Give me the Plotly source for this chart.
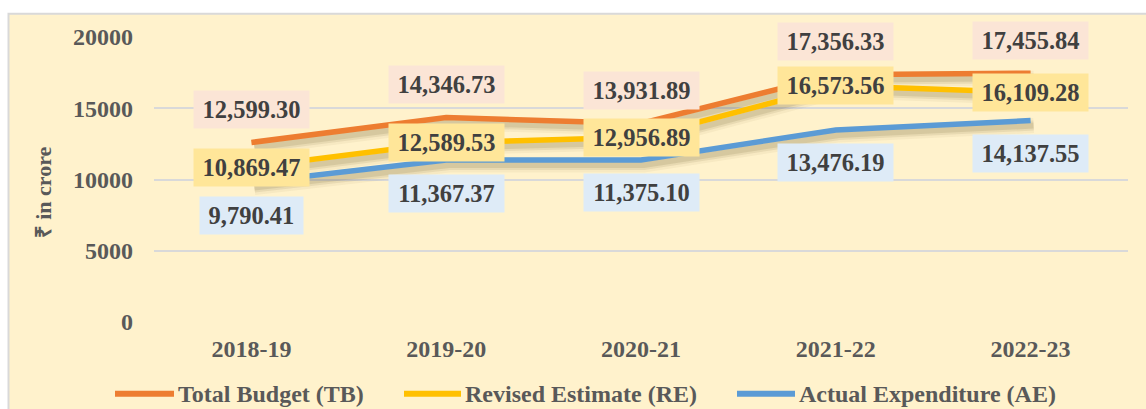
import plotly.graph_objects as go

# ---------------- data ----------------
years = ["2018-19", "2019-20", "2020-21", "2021-22", "2022-23"]
total_budget = [12599.30, 14346.73, 13931.89, 17356.33, 17455.84]
revised_estimate = [10869.47, 12589.53, 12956.89, 16573.56, 16109.28]
actual_expenditure = [9790.41, 11367.37, 11375.10, 13476.19, 14137.55]
series_names = ["Total Budget (TB)", "Revised Estimate (RE)", "Actual Expenditure (AE)"]
y_tick_values = [0, 5000, 10000, 15000, 20000]
y_tick_labels = ["0", "5000", "10000", "15000", "20000"]
y_axis_title = "₹ in crore"

# ---------------- style ----------------
W, H = 1146, 409
L, R, T, B = 154, 1128, 36.7, 321.7
FONT = "Liberation Serif, Times New Roman, serif"
line_colors = ["#ED7D31", "#FFC000", "#5B9BD5"]
label_bg = ["#FBE5D6", "#FFE699", "#DEEBF7"]
label_shift = [33, 0, -33]
LABEL_SIZE = 24.5
series = [total_budget, revised_estimate, actual_expenditure]
Y_RANGE = [0, 20000]
X_RANGE = [-0.5, 4.5]
px_per_y = (B - T) / (Y_RANGE[1] - Y_RANGE[0])
px_per_x = (R - L) / (X_RANGE[1] - X_RANGE[0])


def xp(px):
    return (px - L) / (R - L)


def yp(py):
    return (B - py) / (B - T)


def fmt(v):
    return f"{v:,.2f}"


def text_w(s):
    w = 0
    for ch in s:
        w += 0.25 if ch in ",." else 0.5
    return w * LABEL_SIZE


fig = go.Figure()

# base axis anchor (invisible)
fig.add_trace(go.Scatter(x=years, y=total_budget, mode="lines", line=dict(width=0),
                         opacity=0, hoverinfo="skip", showlegend=False, xaxis="x", yaxis="y"))

# shadows (overlay axes shifted slightly right/down)
sdx, sdy = 3, 5
for vals in series:
    for w, op in [(15, 0.05), (10, 0.09), (6, 0.12)]:
        fig.add_trace(go.Scatter(x=years, y=vals, mode="lines",
                                 line=dict(color=f"rgba(90,70,25,{op})", width=w),
                                 hoverinfo="skip", showlegend=False, xaxis="x2", yaxis="y2"))

# main lines
for name, vals, c in zip(series_names, series, line_colors):
    fig.add_trace(go.Scatter(x=years, y=vals, mode="lines", name=name,
                             line=dict(color=c, width=5.5),
                             showlegend=False, xaxis="x3", yaxis="y3"))

# data labels
annotations = []
for vals, bg, sh in zip(series, label_bg, label_shift):
    for yr, v in zip(years, vals):
        t = fmt(v)
        annotations.append(dict(
            x=yr, y=v, xref="x3", yref="y3", text=t, showarrow=False,
            xanchor="center", yanchor="middle", yshift=sh,
            bgcolor=bg, borderpad=5, width=text_w(t) + 7, height=27,
            font=dict(family=FONT, size=LABEL_SIZE, color="#404040", weight="bold")))

# y axis title
annotations.append(dict(
    x=xp(43), y=yp(192), xref="paper", yref="paper", text=y_axis_title,
    textangle=-90, showarrow=False, xanchor="center", yanchor="middle",
    font=dict(family=FONT, size=22, color="#595959", weight="bold")))

# manual legend
shapes = []
leg_y = 393.5
leg_items = [(115, 174, 176), (404, 461, 463), (737, 795, 797)]
for (x0, x1, tx), name, c in zip(leg_items, series_names, line_colors):
    shapes.append(dict(type="line", xref="paper", yref="paper",
                       x0=xp(x0), x1=xp(x1), y0=yp(leg_y), y1=yp(leg_y),
                       line=dict(color=c, width=6)))
    annotations.append(dict(x=xp(tx), y=yp(leg_y), xref="paper", yref="paper",
                            text=name, showarrow=False, xanchor="left", yanchor="middle",
                            font=dict(family=FONT, size=24, color="#595959", weight="bold")))

# frame / background
shapes.insert(0, dict(type="rect", xref="paper", yref="paper", layer="below",
                      x0=xp(8.5), x1=xp(1200), y0=yp(460), y1=yp(13.5),
                      fillcolor="#FFF2CC", line=dict(color="#D9D9D9", width=2)))

fig.update_layout(
    width=W, height=H,
    margin=dict(l=L, r=W - R, t=T, b=H - B, pad=0),
    paper_bgcolor="white", plot_bgcolor="rgba(0,0,0,0)",
    showlegend=False,
    xaxis=dict(type="category", categoryarray=years, range=X_RANGE, showgrid=False,
               zeroline=False, showline=False, ticks="", ticklabelstandoff=10,
               tickfont=dict(family=FONT, size=24, color="#595959", weight="bold")),
    yaxis=dict(range=Y_RANGE, tickvals=y_tick_values, ticktext=y_tick_labels,
               showgrid=True, gridcolor="#D9D9D9",
               gridwidth=2, zeroline=False, showline=False, ticks="", ticklabelstandoff=20,
               tickfont=dict(family=FONT, size=24, color="#595959", weight="bold")),
    xaxis2=dict(type="category", categoryarray=years, overlaying="x",
                range=[X_RANGE[0] - sdx / px_per_x, X_RANGE[1] - sdx / px_per_x], visible=False),
    yaxis2=dict(overlaying="y", range=[Y_RANGE[0] + sdy / px_per_y, Y_RANGE[1] + sdy / px_per_y],
                visible=False),
    xaxis3=dict(type="category", categoryarray=years, overlaying="x", range=X_RANGE, visible=False),
    yaxis3=dict(overlaying="y", range=Y_RANGE, visible=False),
    annotations=annotations,
    shapes=shapes,
)

fig.write_html("out.html", config={"displayModeBar": False},
               post_script="document.body.style.margin='0';document.body.style.overflow='hidden';")
